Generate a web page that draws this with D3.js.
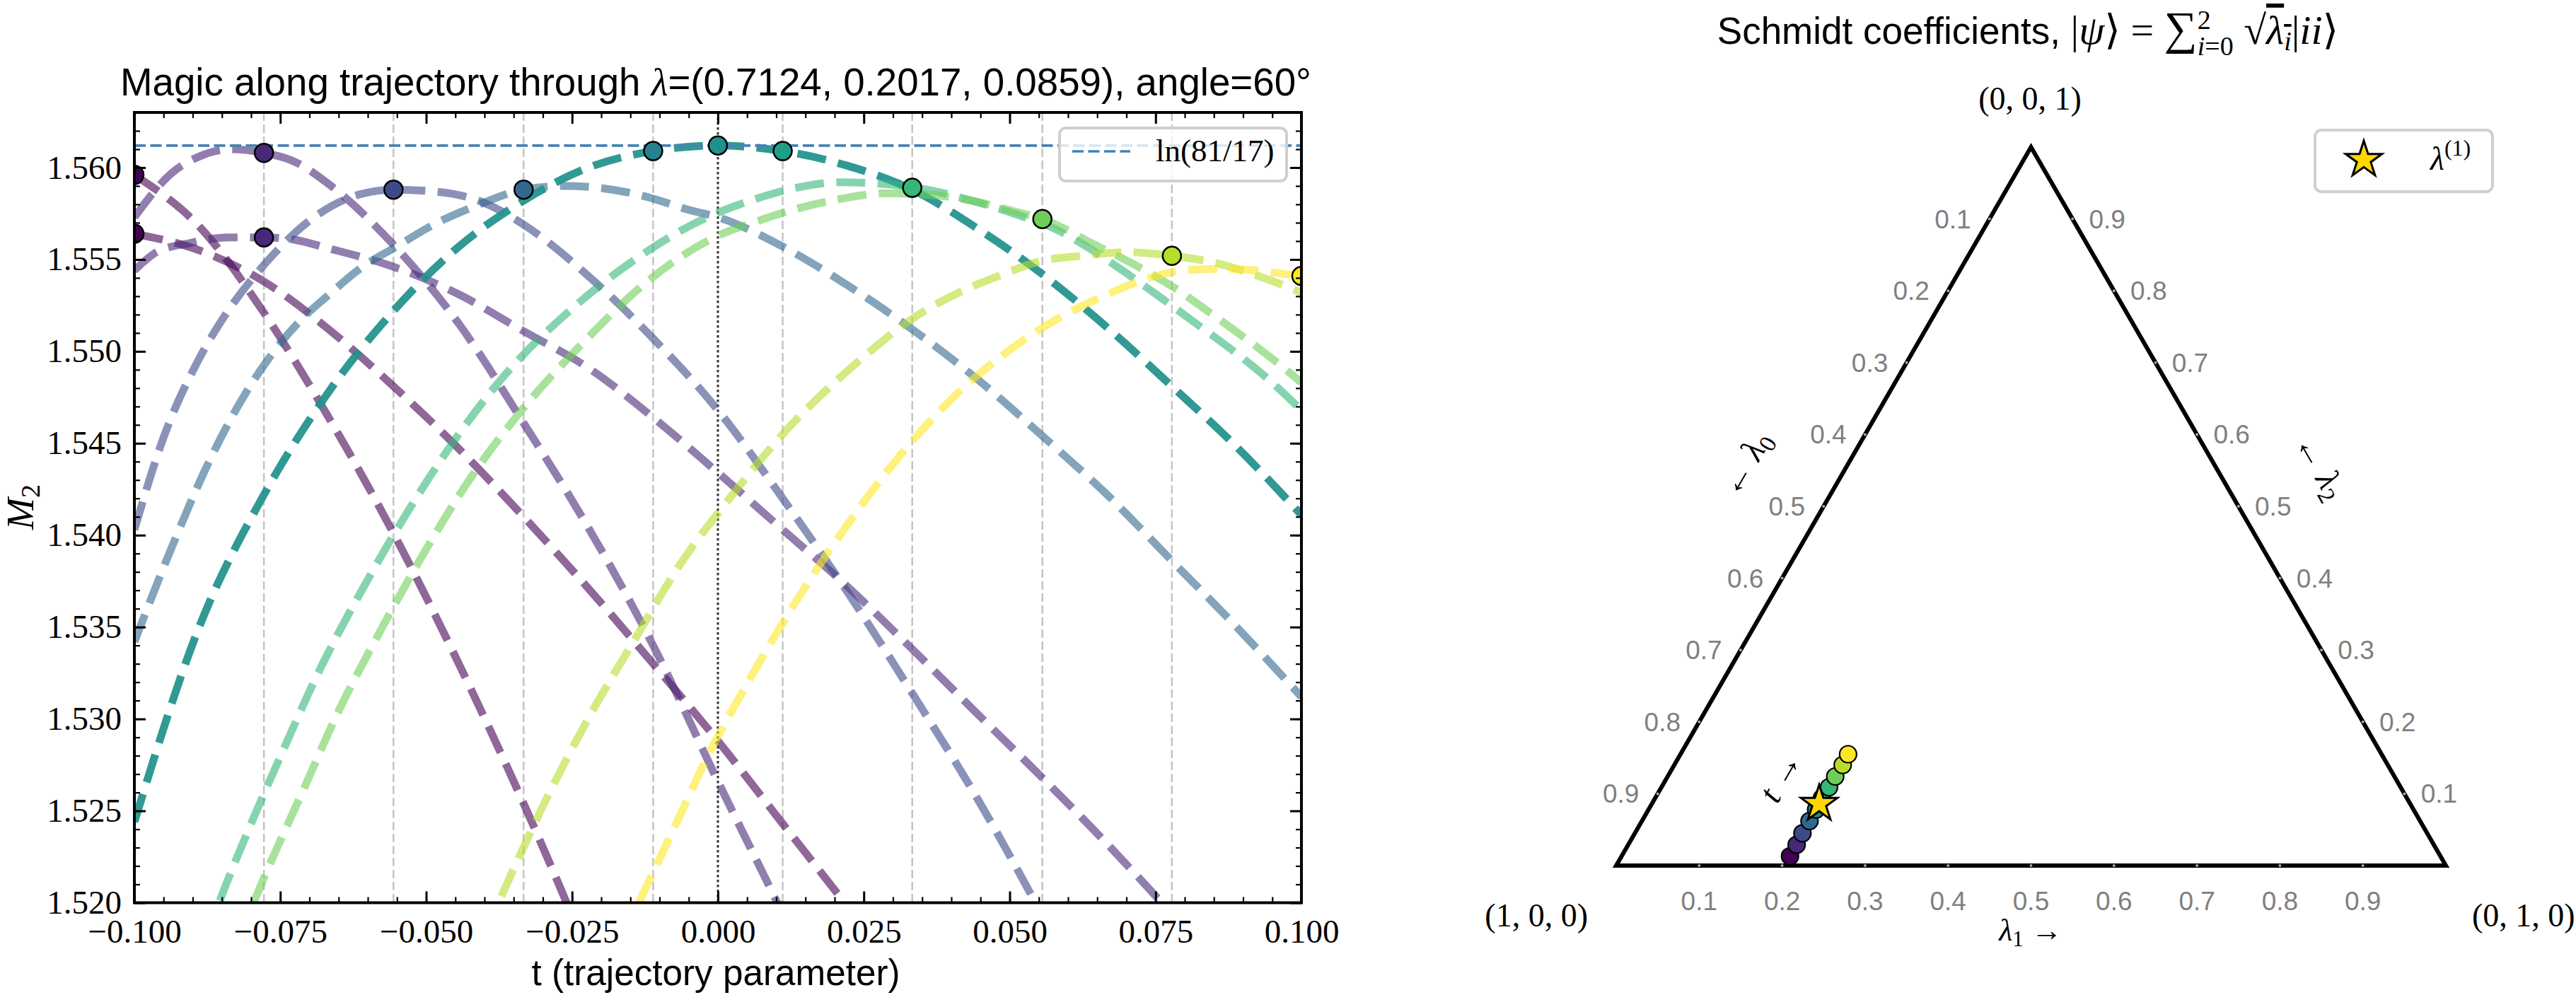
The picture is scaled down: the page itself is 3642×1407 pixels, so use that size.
<!DOCTYPE html>
<html>
<head>
<meta charset="utf-8">
<script src="https://cdn.jsdelivr.net/npm/d3@7"></script>
<style>
  body { margin: 0; background: #fff; }
</style>
</head>
<body>
<svg id="fig" width="3642" height="1407"></svg>
<script>

// ---- data ----
var tTicks = [-0.1, -0.075, -0.05, -0.025, 0, 0.025, 0.05, 0.075, 0.1];
var mTicks = [1.520, 1.525, 1.530, 1.535, 1.540, 1.545, 1.550, 1.555, 1.560];
var tSamples = [-0.1, -0.0778, -0.0556, -0.0333, -0.0111, 0.0111, 0.0333, 0.0556, 0.0778, 0.1];
var lnRef = 1.5612;   // ln(81/17)

// dashed curves, [t, M2]
var magicD1 = [[-0.1,1.5596],[-0.0889,1.5568],[-0.0778,1.5521],[-0.0667,1.5464],[-0.0556,1.5401],[-0.0444,1.5330],[-0.0333,1.5254],[-0.0222,1.5172]];
var magicD2 = [[-0.1,1.5564],[-0.0889,1.5555],[-0.0778,1.5538],[-0.0667,1.5512],[-0.0556,1.5481],[-0.0444,1.5447],[-0.0333,1.5410],[-0.0222,1.5371],[-0.0111,1.5330],[0,1.5288],[0.0111,1.5243],[0.0222,1.5198],[0.0333,1.5152]];
var magicD3 = [[-0.1,1.5573],[-0.0936,1.5597],[-0.0889,1.5606],[-0.0833,1.5610],[-0.0778,1.5608],[-0.0724,1.5603],[-0.0667,1.5591],[-0.0556,1.5558],[-0.0444,1.5515],[-0.0333,1.5461],[-0.0222,1.5404],[-0.0111,1.5340],[0,1.5266],[0.0111,1.5194],[0.0222,1.5120]];
var magicD4 = [[-0.1,1.5544],[-0.0962,1.5554],[-0.0904,1.5559],[-0.0840,1.5562],[-0.0778,1.5562],[-0.0731,1.5561],[-0.0667,1.5556],[-0.0556,1.5546],[-0.0444,1.5531],[-0.0333,1.5511],[-0.0222,1.5491],[-0.0111,1.5464],[0,1.5434],[0.0111,1.5403],[0.0222,1.5372],[0.0333,1.5338],[0.0444,1.5303],[0.0556,1.5268],[0.0667,1.5232],[0.0778,1.5194],[0.0889,1.5155]];
var magicD5 = [[-0.1,1.5403],[-0.0949,1.5454],[-0.0889,1.5496],[-0.0848,1.5518],[-0.0778,1.5547],[-0.0692,1.5573],[-0.0628,1.5584],[-0.0556,1.5588],[-0.0487,1.5587],[-0.0410,1.5582],[-0.0333,1.5569],[-0.0222,1.5541],[-0.0111,1.5507],[0,1.5468],[0.0111,1.5420],[0.0222,1.5369],[0.0333,1.5314],[0.0444,1.5257],[0.0556,1.5193],[0.0667,1.5125]];
var magicD6 = [[-0.1,1.5342],[-0.0939,1.5391],[-0.0878,1.5436],[-0.0808,1.5478],[-0.0763,1.5499],[-0.0718,1.5516],[-0.0666,1.5531],[-0.0609,1.5546],[-0.0551,1.5557],[-0.0487,1.5569],[-0.0416,1.5579],[-0.0333,1.5588],[-0.0262,1.5590],[-0.0204,1.5589],[-0.0121,1.5584],[-0.0050,1.5577],[0,1.5573],[0.0111,1.5557],[0.0222,1.5536],[0.0333,1.5512],[0.0444,1.5485],[0.0556,1.5454],[0.0667,1.5422],[0.0778,1.5386],[0.0889,1.5350],[0.1,1.5312]];
var magicMain = [[-0.1,1.5244],[-0.0889,1.5350],[-0.0778,1.5422],[-0.0667,1.5478],[-0.0556,1.5522],[-0.0444,1.5557],[-0.0333,1.5582],[-0.0222,1.5600],[-0.0111,1.5609],[0,1.5612],[0.0111,1.5609],[0.0222,1.5601],[0.0333,1.5588],[0.0444,1.5567],[0.0556,1.5542],[0.0667,1.5513],[0.0778,1.5481],[0.0889,1.5448],[0.1,1.5411]];
var magicD10 = [[-0.0878,1.5180],[-0.0855,1.5200],[-0.0804,1.5240],[-0.0745,1.5283],[-0.0682,1.5327],[-0.0612,1.5369],[-0.0537,1.5410],[-0.0455,1.5450],[-0.0360,1.5489],[-0.0258,1.5521],[-0.0142,1.5550],[-0.0018,1.5573],[0.0056,1.5582],[0.0134,1.5589],[0.0208,1.5592],[0.0286,1.5591],[0.0358,1.5588],[0.0435,1.5582],[0.0507,1.5575],[0.0582,1.5566],[0.0637,1.5556],[0.0698,1.5543],[0.0760,1.5529],[0.0820,1.5515],[0.0880,1.5501],[0.0939,1.5486],[0.1,1.5468]];
var magicD11 = [[-0.0825,1.5180],[-0.0800,1.5197],[-0.0772,1.5218],[-0.0711,1.5261],[-0.0649,1.5305],[-0.0580,1.5347],[-0.0508,1.5388],[-0.0424,1.5431],[-0.0323,1.5473],[-0.0230,1.5505],[-0.0121,1.5538],[-0.0006,1.5562],[0.0069,1.5571],[0.0140,1.5578],[0.0211,1.5583],[0.0286,1.5586],[0.0370,1.5585],[0.0435,1.5582],[0.0510,1.5576],[0.0556,1.5572],[0.0646,1.5558],[0.0715,1.5547],[0.0780,1.5535],[0.0839,1.5522],[0.0900,1.5508],[0.0958,1.5494],[0.1,1.5483]];
var magicD12 = [[-0.0400,1.5183],[-0.0352,1.5217],[-0.0290,1.5259],[-0.0219,1.5302],[-0.0143,1.5343],[-0.0065,1.5384],[0.0020,1.5420],[0.0117,1.5457],[0.0228,1.5491],[0.0344,1.5520],[0.0413,1.5532],[0.0481,1.5541],[0.0552,1.5549],[0.0624,1.5552],[0.0702,1.5554],[0.0778,1.5552],[0.0854,1.5548],[0.0926,1.5541],[0.1,1.5532]];
var magicD13 = [[-0.0165,1.5180],[-0.0140,1.5197],[-0.0079,1.5238],[-0.0014,1.5282],[0.0057,1.5323],[0.0134,1.5364],[0.0216,1.5403],[0.0306,1.5441],[0.0410,1.5477],[0.0523,1.5506],[0.0653,1.5529],[0.0799,1.5544],[0.0874,1.5545],[0.0948,1.5543],[0.1,1.5541]];

// markers on the curves
var dotT = [-0.1, -0.1, -0.0778, -0.0778, -0.0556, -0.0333, -0.0111, 0, 0.0111, 0.0333, 0.0556, 0.0778, 0.1];
var dotM = [1.5596, 1.5564, 1.5608, 1.5562, 1.5588, 1.5588, 1.5609, 1.5612, 1.5609, 1.5589, 1.5572, 1.5552, 1.5541];

// ternary: trajectory points (lambda1, lambda2) and the reference state
var trajL1 = [0.203, 0.203, 0.202, 0.202, 0.202, 0.201, 0.202, 0.202, 0.203, 0.202];
var trajL2 = [0.013, 0.029, 0.045, 0.062, 0.078, 0.094, 0.109, 0.124, 0.140, 0.155];
var refLambda = [0.7124, 0.2017, 0.0859];
var ternTicks = [0.1, 0.2, 0.3, 0.4, 0.5, 0.6, 0.7, 0.8, 0.9];

// ---- setup ----
var FS = "'Liberation Sans Narrow', 'Liberation Sans', Arial, sans-serif";
var FR = "'Liberation Serif', 'DejaVu Serif', serif";

var svg = d3.select("#fig");
svg.append("rect").attr("width", 3642).attr("height", 1407).attr("fill", "#fff");

var x = d3.scaleLinear().domain([-0.1, 0.1]).range([190, 1840]);
var y = d3.scaleLinear().domain([1.520, 1.5630]).range([1276.5, 159]);
var color = d3.scaleSequential(d3.interpolateViridis).domain([-0.1, 0.1]);

svg.append("clipPath").attr("id", "clipL")
    .append("rect")
    .attr("x", 190).attr("y", 159)
    .attr("width", 1650).attr("height", 1117.5);

var g = svg.append("g").attr("clip-path", "url(#clipL)");

// guide lines at the sample points
g.selectAll(".guide")
    .data(tSamples)
    .enter().append("line")
    .attr("x1", function(d) { return x(d); })
    .attr("x2", function(d) { return x(d); })
    .attr("y1", 159).attr("y2", 1277)
    .attr("stroke", "#c4c4c4")
    .attr("stroke-width", 2.5)
    .attr("stroke-dasharray", "12,5");

g.append("line")
    .attr("x1", x(0)).attr("x2", x(0))
    .attr("y1", 159).attr("y2", 1277)
    .attr("stroke", "#333")
    .attr("stroke-width", 3)
    .attr("stroke-dasharray", "3.5,3.5");

var curves = [
    {c: -0.1, d: magicD1, o: 0.6},
    {c: -0.1, d: magicD2, o: 0.6},
    {c: -0.0778, d: magicD3, o: 0.6},
    {c: -0.0778, d: magicD4, o: 0.6},
    {c: -0.0556, d: magicD5, o: 0.6},
    {c: -0.0333, d: magicD6, o: 0.6},
    {c: 0, d: magicMain, o: 0.93},
    {c: 0.0333, d: magicD10, o: 0.6},
    {c: 0.0556, d: magicD11, o: 0.6},
    {c: 0.0778, d: magicD12, o: 0.6},
    {c: 0.1, d: magicD13, o: 0.6}
];

var line = d3.line()
    .x(function(d) { return x(d[0]); })
    .y(function(d) { return y(d[1]); })
    .curve(d3.curveMonotoneX);

g.selectAll(".curve")
    .data(curves)
    .enter().append("path")
    .attr("d", function(d) { return line(d.d); })
    .attr("fill", "none")
    .attr("stroke", function(d) { return color(d.c); })
    .attr("stroke-opacity", function(d) { return d.o; })
    .attr("stroke-width", 11)
    .attr("stroke-dasharray", "41,17.5");

// ln(81/17) reference
g.append("line")
    .attr("x1", 190).attr("x2", 1840)
    .attr("y1", y(lnRef)).attr("y2", y(lnRef))
    .attr("stroke", "#4682b4")
    .attr("stroke-width", 3.7)
    .attr("stroke-dasharray", "16,6.5");

g.selectAll(".dot")
    .data(dotT)
    .enter().append("circle")
    .attr("cx", function(d) { return x(d); })
    .attr("cy", function(d, i) { return y(dotM[i]); })
    .attr("r", 13)
    .attr("fill", function(d) { return color(d); })
    .attr("stroke", "#000")
    .attr("stroke-width", 2.5);

// axes, ticks inward on all sides
var fmt3 = d3.format(".3f");

function styleAxis(sel, w) {
    sel.select(".domain").remove();
    sel.selectAll("line").attr("stroke", "#000").attr("stroke-width", w);
    sel.attr("font-family", FR).attr("font-size", 47);
}

svg.append("g").attr("transform", "translate(0,1276.5)")
    .call(d3.axisBottom(x).tickValues(x.ticks(40)).tickFormat("").tickSizeInner(-8).tickSizeOuter(0))
    .call(styleAxis, 2.2);
svg.append("g").attr("transform", "translate(0,159)")
    .call(d3.axisTop(x).tickValues(x.ticks(40)).tickFormat("").tickSizeInner(-8).tickSizeOuter(0))
    .call(styleAxis, 2.2);
svg.append("g").attr("transform", "translate(190,0)")
    .call(d3.axisLeft(y).tickValues(y.ticks(43)).tickFormat("").tickSizeInner(-8).tickSizeOuter(0))
    .call(styleAxis, 2.2);
svg.append("g").attr("transform", "translate(1840,0)")
    .call(d3.axisRight(y).tickValues(y.ticks(43)).tickFormat("").tickSizeInner(-8).tickSizeOuter(0))
    .call(styleAxis, 2.2);

svg.append("g").attr("transform", "translate(0,1276.5)")
    .call(d3.axisBottom(x).tickValues(tTicks).tickFormat(fmt3).tickSizeInner(-16).tickSizeOuter(0).tickPadding(23))
    .call(styleAxis, 3);
svg.append("g").attr("transform", "translate(0,159)")
    .call(d3.axisTop(x).tickValues(tTicks).tickFormat("").tickSizeInner(-16).tickSizeOuter(0))
    .call(styleAxis, 3);
svg.append("g").attr("transform", "translate(190,0)")
    .call(d3.axisLeft(y).tickValues(mTicks).tickFormat(fmt3).tickSizeInner(-16).tickSizeOuter(0).tickPadding(18))
    .call(styleAxis, 3);
svg.append("g").attr("transform", "translate(1840,0)")
    .call(d3.axisRight(y).tickValues(mTicks).tickFormat("").tickSizeInner(-16).tickSizeOuter(0))
    .call(styleAxis, 3);

svg.append("rect")
    .attr("x", 190).attr("y", 159)
    .attr("width", 1650).attr("height", 1117.5)
    .attr("fill", "none")
    .attr("stroke", "#000")
    .attr("stroke-width", 4);

// legend (left)
svg.append("rect")
    .attr("x", 1498).attr("y", 181)
    .attr("width", 321).attr("height", 75)
    .attr("rx", 9).attr("ry", 9)
    .attr("fill", "#fff").attr("fill-opacity", 0.8)
    .attr("stroke", "#cfcfcf").attr("stroke-width", 4);
svg.append("line")
    .attr("x1", 1516).attr("x2", 1598)
    .attr("y1", 214).attr("y2", 214)
    .attr("stroke", "#4682b4")
    .attr("stroke-width", 3.7)
    .attr("stroke-dasharray", "16,6.5");
svg.append("text")
    .attr("x", 1634).attr("y", 228)
    .attr("font-family", FR).attr("font-size", 45)
    .text("ln(81/17)");

// titles and labels (left)
var t1 = svg.append("text")
    .attr("x", 1012).attr("y", 135)
    .attr("text-anchor", "middle")
    .attr("font-family", FS).attr("font-size", 55)
    .attr("textLength", 1684).attr("lengthAdjust", "spacingAndGlyphs");
t1.append("tspan").text("Magic along trajectory through ");
t1.append("tspan").attr("font-family", FR).attr("font-style", "italic").text("λ");
t1.append("tspan").text("=(0.7124, 0.2017, 0.0859), angle=60°");

svg.append("text")
    .attr("x", 1012).attr("y", 1393)
    .attr("text-anchor", "middle")
    .attr("font-family", FS).attr("font-size", 52)
    .attr("textLength", 521).attr("lengthAdjust", "spacingAndGlyphs")
    .text("t (trajectory parameter)");

var yl = svg.append("text")
    .attr("transform", "translate(47,717) rotate(-90)")
    .attr("text-anchor", "middle")
    .attr("font-family", FR).attr("font-size", 54);
yl.append("tspan").attr("font-style", "italic").text("M");
yl.append("tspan").attr("font-size", 38).attr("dy", 9).text("2");

// ---- ternary plot ----
var tx = d3.scaleLinear().domain([0, 1]).range([2285, 3458]);
var ty = d3.scaleLinear().domain([0, 1]).range([1224, 208]);
function tern(l1, l2) { return [tx(l1 + l2 / 2), ty(l2)]; }

var tri = [tern(0, 0), tern(1, 0), tern(0, 1)];
svg.append("path")
    .attr("d", d3.line()(tri) + "Z")
    .attr("fill", "none")
    .attr("stroke", "#000")
    .attr("stroke-width", 6)
    .attr("stroke-linejoin", "miter");

var tg = svg.append("g")
    .attr("font-family", "'Liberation Sans', Arial, sans-serif")
    .attr("font-size", 37)
    .attr("fill", "#808080")
    .attr("text-anchor", "middle");

ternTicks.forEach(function(v) {
    var pb = tern(v, 0), pl = tern(0, 1 - v), pr = tern(1 - v, v);
    [pb, pl, pr].forEach(function(p) {
        svg.append("circle").attr("cx", p[0]).attr("cy", p[1]).attr("r", 2).attr("fill", "#aaa");
    });
    tg.append("text").attr("x", pb[0]).attr("y", 1274).attr("dy", "0.35em").text(v.toFixed(1));
    tg.append("text").attr("x", pl[0] - 52).attr("y", pl[1]).attr("dy", "0.35em").text(v.toFixed(1));
    tg.append("text").attr("x", pr[0] + 49).attr("y", pr[1]).attr("dy", "0.35em").text(v.toFixed(1));
});

// corner labels
var cg = svg.append("g").attr("font-family", FR).attr("font-size", 46);
cg.append("text").attr("x", 2870).attr("y", 155).attr("text-anchor", "middle").text("(0, 0, 1)");
cg.append("text").attr("x", 2245).attr("y", 1310).attr("text-anchor", "end").text("(1, 0, 0)");
cg.append("text").attr("x", 3495).attr("y", 1310).attr("text-anchor", "start").text("(0, 1, 0)");

// edge labels
var lb = svg.append("text")
    .attr("x", 2871).attr("y", 1330)
    .attr("text-anchor", "middle")
    .attr("font-family", FR).attr("font-size", 44);
lb.append("tspan").attr("font-style", "italic").text("λ");
lb.append("tspan").attr("font-size", 31).attr("dy", 8).text("1");
lb.append("tspan").attr("dy", -8).text(" →");

var ll = svg.append("text")
    .attr("transform", "translate(2468,656) rotate(-60)")
    .attr("y", 15).attr("text-anchor", "middle")
    .attr("font-family", FR).attr("font-size", 48);
ll.append("tspan").text("← ");
ll.append("tspan").attr("font-style", "italic").text("λ");
ll.append("tspan").attr("font-size", 34).attr("dy", 9).text("0");

var lr = svg.append("text")
    .attr("transform", "translate(3280,660) rotate(60)")
    .attr("y", 15).attr("text-anchor", "middle")
    .attr("font-family", FR).attr("font-size", 48);
lr.append("tspan").text("← ");
lr.append("tspan").attr("font-style", "italic").text("λ");
lr.append("tspan").attr("font-size", 34).attr("dy", 9).text("2");

var lt = svg.append("text")
    .attr("transform", "translate(2518,1099) rotate(-60)")
    .attr("y", 15).attr("text-anchor", "middle")
    .attr("font-family", FR).attr("font-size", 48);
lt.append("tspan").attr("font-style", "italic").text("t");
lt.append("tspan").text(" →");

// trajectory dots
svg.selectAll(".tdot")
    .data(tSamples)
    .enter().append("circle")
    .attr("cx", function(d, i) { return tern(trajL1[i], trajL2[i])[0]; })
    .attr("cy", function(d, i) { return tern(trajL1[i], trajL2[i])[1]; })
    .attr("r", 12)
    .attr("fill", function(d) { return color(d); })
    .attr("stroke", "#000")
    .attr("stroke-width", 2.2);

var star = d3.symbol().type(d3.symbolStar).size(820);
var ps = tern(refLambda[1], refLambda[2]);
svg.append("path")
    .attr("d", star)
    .attr("transform", "translate(" + ps[0] + "," + ps[1] + ")")
    .attr("fill", "#ffd700")
    .attr("stroke", "#000")
    .attr("stroke-width", 3)
    .attr("stroke-linejoin", "miter");

// legend (right)
svg.append("rect")
    .attr("x", 3273).attr("y", 184)
    .attr("width", 251).attr("height", 87)
    .attr("rx", 9).attr("ry", 9)
    .attr("fill", "#fff").attr("fill-opacity", 0.8)
    .attr("stroke", "#cfcfcf").attr("stroke-width", 4);
svg.append("path")
    .attr("d", star)
    .attr("transform", "translate(3342,226)")
    .attr("fill", "#ffd700")
    .attr("stroke", "#000")
    .attr("stroke-width", 3);
var lg = svg.append("text")
    .attr("x", 3436).attr("y", 240)
    .attr("font-family", FR).attr("font-size", 46);
lg.append("tspan").attr("font-style", "italic").text("λ");
lg.append("tspan").attr("font-size", 32).attr("dy", -20).text("(1)");

// title (right)
var t2 = svg.append("text")
    .attr("x", 2867).attr("y", 62)
    .attr("text-anchor", "middle")
    .attr("font-family", FS).attr("font-size", 53);
t2.append("tspan").text("Schmidt coefficients, ");
t2.append("tspan").attr("font-family", FR).attr("font-size", 58).text("|");
t2.append("tspan").attr("font-family", FR).attr("font-size", 58).attr("font-style", "italic").text("ψ");
t2.append("tspan").attr("font-family", FR).attr("font-size", 58).text("⟩ = ");
t2.append("tspan").attr("font-family", FR).attr("font-size", 66).text("∑");
t2.append("tspan").attr("font-family", FR).attr("font-size", 38).attr("dy", -21).text("2");
t2.append("tspan").attr("font-family", FR).attr("font-size", 38).attr("font-style", "italic").attr("dx", -19).attr("dy", 37).text("i");
t2.append("tspan").attr("font-family", FR).attr("font-size", 38).text("=0");
t2.append("tspan").attr("font-family", FR).attr("font-size", 58).attr("dy", -16).text(" √");
t2.append("tspan").attr("font-family", FR).attr("font-size", 58).attr("font-style", "italic").attr("text-decoration", "overline").text("λ");
t2.append("tspan").attr("font-family", FR).attr("font-style", "italic").attr("font-size", 38).attr("dy", 9).attr("text-decoration", "overline").text("i");
t2.append("tspan").attr("font-family", FR).attr("font-size", 58).attr("dy", -9).text("|");
t2.append("tspan").attr("font-family", FR).attr("font-size", 58).attr("font-style", "italic").text("ii");
t2.append("tspan").attr("font-family", FR).attr("font-size", 58).text("⟩");

</script>
</body>
</html>
